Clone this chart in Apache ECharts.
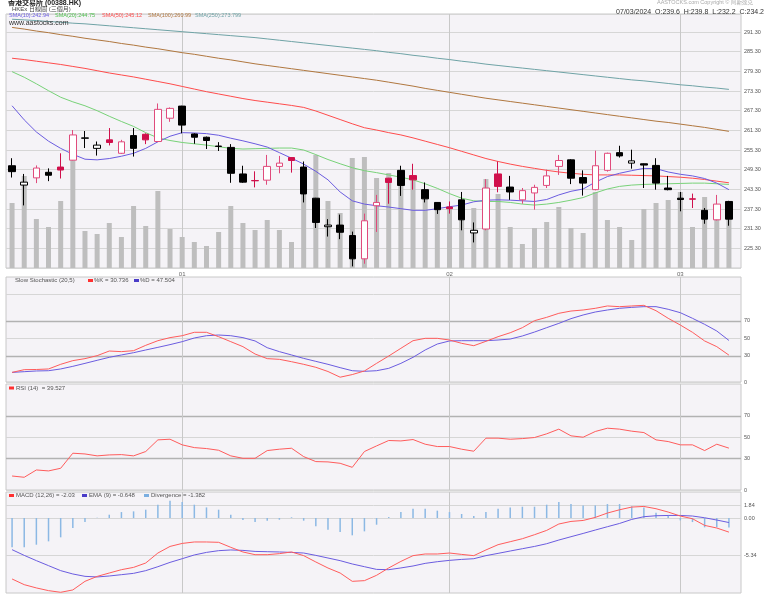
<!DOCTYPE html>
<html><head><meta charset="utf-8">
<script src="https://cdn.jsdelivr.net/npm/echarts@6/dist/echarts.min.js"></script>
<style>html,body{margin:0;padding:0;background:#fff}#c{width:768px;height:601px}</style>
</head><body><div id="c"></div>
<script>
// ---------------- data ----------------
const dates = ['2023-12-08','2023-12-11','2023-12-12','2023-12-13','2023-12-14','2023-12-15','2023-12-18','2023-12-19','2023-12-20','2023-12-21','2023-12-22','2023-12-27','2023-12-28','2023-12-29',
'2024-01-02','2024-01-03','2024-01-04','2024-01-05','2024-01-08','2024-01-09','2024-01-10','2024-01-11','2024-01-12','2024-01-15','2024-01-16','2024-01-17','2024-01-18','2024-01-19','2024-01-22','2024-01-23','2024-01-24','2024-01-25','2024-01-26','2024-01-29','2024-01-30','2024-01-31',
'2024-02-01','2024-02-02','2024-02-05','2024-02-06','2024-02-07','2024-02-08','2024-02-09','2024-02-14','2024-02-15','2024-02-16','2024-02-19','2024-02-20','2024-02-21','2024-02-22','2024-02-23','2024-02-26','2024-02-27','2024-02-28','2024-02-29',
'2024-03-01','2024-03-04','2024-03-05','2024-03-06','2024-03-07'];
const opens = [250.5,244.6,246.8,248.5,250.1,252.2,259.0,255.8,258.4,254.3,259.7,260.1,257.9,265.0,268.7,260.2,259.2,256.5,256.1,248.0,246.0,246.1,250.3,253.0,250.1,240.6,231.9,232.4,229.2,222.1,238.3,246.7,249.1,247.5,243.2,239.3,237.9,240.1,230.0,231.2,248.0,244.0,240.1,242.2,244.5,250.3,252.3,246.9,243.2,249.1,254.5,251.3,251.1,250.6,243.7,240.6,240.4,236.9,234.0,239.6];
const closes = [248.7,245.5,249.8,247.6,249.2,259.9,258.9,256.8,257.6,257.8,255.8,258.4,267.7,268.0,262.9,259.2,258.2,256.4,248.2,245.5,245.9,250.3,251.3,252.1,241.9,233.2,232.4,230.2,222.1,233.7,239.3,245.4,244.5,246.2,240.4,237.1,237.4,234.0,230.8,243.7,244.2,242.5,242.9,243.9,247.4,252.1,246.7,245.2,250.5,254.3,253.5,252.0,250.7,245.2,243.2,240.2,240.3,234.2,238.8,234.2];
const highs = [252.8,248.0,250.6,249.7,254.3,261.4,261.1,257.9,262.0,258.4,262.0,260.4,269.5,268.3,268.8,260.4,259.4,257.7,257.1,250.5,248.8,253.8,253.5,253.1,251.8,240.7,234.2,235.6,230.4,235.9,241.6,246.8,250.5,251.1,245.4,239.4,239.6,242.5,233.2,246.4,251.8,247.4,243.7,244.7,249.3,253.8,252.5,249.1,255.1,254.5,256.6,255.4,251.2,252.8,247.4,242.5,242.0,237.6,241.6,239.8];
const lows = [246.9,238.4,245.2,245.8,246.6,252.1,255.9,253.6,256.7,254.1,253.3,257.1,257.7,263.9,260.4,257.2,255.6,255.0,245.3,245.3,243.9,244.7,248.2,248.4,239.3,231.5,228.9,228.1,219.8,220.6,230.3,238.9,241.3,243.2,239.3,235.8,235.9,230.8,227.1,230.8,242.4,240.1,238.9,237.1,243.7,247.7,244.9,241.4,243.0,248.7,253.0,249.6,243.7,243.2,243.0,236.6,237.6,232.8,233.8,232.2];
const volumes = [6.5,9.2,4.9,4.1,6.7,12.1,3.7,3.4,4.5,3.1,6.2,4.2,7.7,3.9,3.1,2.6,2.2,3.6,6.2,4.5,3.8,4.8,3.8,2.6,10.0,11.3,6.7,5.5,11.0,11.1,9.0,9.5,9.5,8.8,7.5,6.6,6.2,6.6,6.0,8.9,7.4,4.1,2.4,4.0,4.6,6.1,4.0,3.5,7.6,4.8,4.1,2.8,5.9,6.5,6.8,7.6,4.1,7.1,6.2,5.0];
const sma10 = [268.8,264.5,260.8,258.0,255.8,254.0,252.5,252.3,252.7,253.4,254.3,255.8,257.8,259.5,260.6,260.5,260.3,259.8,258.9,258.1,257.2,256.2,254.5,252.8,251.0,248.8,246.2,242.5,239.8,238.8,238.3,237.9,237.4,236.9,236.9,237.4,238.0,238.5,239.5,240.0,240.1,240.0,239.8,239.6,240.2,241.6,242.7,243.4,245.5,247.2,248.2,249.0,249.7,249.6,248.6,247.9,247.4,246.6,245.2,243.2];
const sma20 = [279.2,277.5,275.5,273.4,271.4,270.0,268.8,267.3,265.6,264.0,262.5,260.6,259.0,258.2,257.6,257.2,256.8,256.3,255.8,255.6,255.7,255.8,255.9,255.9,255.3,253.9,252.4,251.1,249.9,249.0,248.4,247.7,247.0,246.2,245.0,243.6,242.0,240.6,239.8,239.6,239.6,239.3,238.8,238.5,238.8,239.3,240.0,240.8,242.2,243.4,244.2,244.6,244.8,244.9,245.0,245.1,245.2,245.2,245.0,244.8];
const sma50 = [283.3,282.9,282.4,281.9,281.4,280.8,280.2,279.5,278.8,278.2,277.6,276.9,276.2,275.5,274.7,273.9,273.1,272.4,271.7,271.0,270.4,269.9,269.4,268.9,268.3,267.2,265.9,264.6,263.3,262.1,261.4,260.6,259.9,259.0,258.0,257.0,256.0,254.9,253.8,252.7,251.8,251.0,250.3,249.7,249.1,248.6,248.2,247.9,247.7,247.7,247.7,247.6,247.5,247.4,247.2,247.0,246.7,246.3,245.8,245.3];
const sma100 = [292.7,292.2,291.6,291.1,290.5,290.0,289.4,288.9,288.4,287.8,287.3,286.7,286.2,285.6,285.0,284.5,283.9,283.3,282.8,282.2,281.6,281.1,280.6,280.1,279.6,279.1,278.6,278.1,277.6,277.1,276.6,276.0,275.4,274.8,274.1,273.5,272.9,272.3,271.7,271.1,270.6,270.1,269.6,269.1,268.6,268.1,267.6,267.1,266.6,266.1,265.6,265.1,264.6,264.1,263.7,263.2,262.7,262.2,261.6,261.0];
const sma250 = [295.2,295.0,294.8,294.5,294.3,294.0,293.8,293.5,293.2,292.9,292.6,292.3,292.0,291.7,291.4,291.1,290.8,290.5,290.2,289.9,289.6,289.2,288.8,288.4,288.0,287.6,287.2,286.8,286.4,286.0,285.6,285.1,284.7,284.2,283.8,283.3,282.9,282.4,282.0,281.5,281.1,280.7,280.3,279.9,279.5,279.1,278.7,278.3,277.9,277.5,277.1,276.7,276.4,276.0,275.6,275.2,274.9,274.5,274.2,273.8];
const stochK = [11.0,14.1,14.3,14.9,20.2,24.4,26.7,30.1,35.4,34.7,35.8,41.9,47.2,50.7,52.9,56.8,56.8,51.8,46.1,40.4,32.0,26.7,25.9,23.2,20.2,16.8,12.0,5.5,8.5,12.6,21.3,29.7,38.5,47.2,49.9,49.9,48.0,44.2,41.5,46.5,51.8,56.3,62.1,70.1,73.9,78.5,81.1,82.3,84.2,86.9,86.1,86.9,87.6,81.5,72.8,65.1,56.8,46.9,40.4,30.7];
const stochD = [11.0,11.8,12.6,12.9,14.9,17.9,21.3,24.8,28.2,30.9,33.5,36.6,39.6,42.7,46.1,50.3,52.9,53.7,52.9,50.7,46.9,39.2,34.7,30.9,27.0,23.6,20.2,16.4,12.9,12.2,12.9,15.6,21.3,28.2,36.6,43.4,46.9,47.2,47.2,47.2,48.0,49.1,52.6,57.1,62.1,67.0,72.4,76.6,80.0,82.3,84.2,85.3,86.1,86.1,83.1,79.2,72.8,65.9,58.3,47.5];
const rsi14 = [13.2,12.0,18.9,18.0,20.5,34.7,34.0,32.2,33.1,33.4,32.2,36.3,47.3,47.9,42.6,40.0,39.1,37.5,32.2,29.9,29.9,37.2,38.5,39.4,31.5,26.8,26.5,25.2,21.4,36.3,41.6,46.7,46.3,47.6,43.2,41.0,41.0,38.5,36.6,48.9,48.9,47.9,48.5,49.5,53.0,57.4,51.1,49.8,55.2,58.3,57.4,55.5,54.2,47.3,45.7,42.6,42.6,37.2,43.2,39.5];
const macdLine = [-8.78,-9.60,-10.07,-10.46,-10.70,-10.36,-9.12,-8.41,-7.92,-7.44,-7.11,-6.48,-5.04,-4.09,-3.66,-3.45,-3.45,-3.50,-4.22,-4.89,-5.28,-5.28,-5.13,-4.89,-5.42,-6.33,-7.20,-7.92,-9.12,-9.02,-8.25,-7.19,-6.25,-5.42,-5.18,-5.18,-5.04,-5.24,-5.42,-4.60,-3.84,-3.41,-2.98,-2.40,-1.78,-0.86,-0.49,-0.35,0.09,0.72,1.19,1.58,1.67,1.34,0.86,0.29,-0.10,-1.06,-1.44,-2.03];
const macdEma = [-4.56,-5.38,-6.14,-6.86,-7.58,-8.06,-8.40,-8.49,-8.35,-8.16,-7.97,-7.58,-7.01,-6.39,-5.86,-5.32,-4.95,-4.70,-4.60,-4.66,-4.81,-4.85,-4.89,-4.95,-5.04,-5.38,-5.76,-6.14,-6.62,-7.01,-7.40,-7.44,-7.19,-6.91,-6.53,-6.29,-6.10,-5.96,-5.86,-5.42,-5.09,-4.75,-4.42,-4.09,-3.70,-3.17,-2.69,-2.22,-1.73,-1.25,-0.78,-0.20,0.19,0.33,0.37,0.37,0.29,0.04,-0.29,-0.65];
const macdDiv = [-4.22,-4.22,-3.84,-3.36,-2.78,-1.44,-0.58,0.05,0.48,0.86,0.96,1.20,1.92,2.49,2.30,1.92,1.53,1.20,0.48,-0.29,-0.58,-0.38,-0.24,0.10,-0.38,-1.20,-1.68,-2.01,-2.49,-1.92,-0.96,0.14,0.86,1.34,1.34,1.06,0.86,0.58,0.29,0.86,1.34,1.53,1.63,1.63,1.92,2.30,2.01,1.82,1.82,2.01,2.01,1.68,1.53,0.77,0.38,-0.34,-0.58,-1.34,-1.34,-1.38];

// legend texts (values as printed on the chart)
const smaLegend = ['SMA(10):242.94', 'SMA(20):244.75', 'SMA(50):245.12', 'SMA(100):260.99', 'SMA(250):273.799'];
const lastBar = '07/03/2024  O:239.6  H:239.8  L:232.2  C:234.2';

// axis ranges and reference levels
const priceMin = 219.3, priceMax = 296.8, priceStep = 6;
const volMax = 25.4;
const stochRange = [0, 120], stochLevels = [100, 70, 50, 30, 0], stochLabels = ['', '70', '50', '30', '0'], stochStrong = [70, 30];
const rsiRange = [0, 100], rsiLevels = [70, 50, 30, 0], rsiLabels = ['70', '50', '30', '0'], rsiStrong = [70, 30];
const macdRange = [-10.8, 3.75], macdLevels = [1.84, 0, -5.34], macdLabels = ['1.84', '0.00', '-5.34'];

// ---------------- chart ----------------
const FONT = "'Liberation Sans','Noto Sans CJK TC',sans-serif";
const RED = '#d0104c', RED_HOLLOW = '#e04b7c', BLACK = '#000000';
const C10 = '#6b5ce0', C20 = '#78d278', C50 = '#ff4c4c', C100 = '#b0773f', C250 = '#6fa3a6';
const BG = '#f5f3f7';

const monthStarts = dates.map((d, i) => (i > 0 && d.slice(5, 7) !== dates[i - 1].slice(5, 7)) ? i : -1).filter(i => i >= 0);

const candleData = dates.map((d, i) => {
  const o = opens[i], c = closes[i];
  const red = i > 0 && c >= closes[i - 1];
  const hollow = c > o;
  const edge = red ? (hollow ? RED_HOLLOW : RED) : BLACK;
  const fill = hollow ? '#ffffff' : (red ? RED : BLACK);
  return { value: [o, c, lows[i], highs[i]], itemStyle: { color: fill, color0: fill, borderColor: edge, borderColor0: edge, borderWidth: 1 } };
});

const L = 6, DATA_W = 729, FRAME_W = 735;
const panels = [{ top: 14, h: 254 }, { top: 277, h: 105 }, { top: 384, h: 106 }, { top: 492, h: 101 }];

const grid = [], xAxis = [];
panels.forEach((p, k) => {
  grid.push({ left: L, top: p.top, width: FRAME_W, height: p.h, show: true, backgroundColor: BG, borderColor: '#c8c8c8', borderWidth: 1 });
  grid.push({ left: L, top: p.top, width: DATA_W, height: p.h });
  xAxis.push({ type: 'value', gridIndex: 2 * k, min: 0, max: 1, show: false });
  xAxis.push({
    type: 'category', gridIndex: 2 * k + 1, data: dates, boundaryGap: true,
    axisLine: { show: false }, axisTick: { show: false }, splitLine: { show: false },
    axisLabel: k === 0 ? {
      show: true, interval: (idx) => monthStarts.includes(idx), formatter: v => v.slice(5, 7),
      fontSize: 6, color: '#666', margin: 3, fontFamily: FONT
    } : { show: false }
  });
});

const yAxis = [
  { type: 'value', gridIndex: 0, position: 'right', min: priceMin, max: priceMax, interval: priceStep,
    axisLine: { show: false }, axisTick: { show: false },
    axisLabel: { fontSize: 5.5, color: '#555', margin: 3, fontFamily: FONT, formatter: v => v.toFixed(2), showMinLabel: false, showMaxLabel: false },
    splitLine: { lineStyle: { color: '#d6d6d6', width: 1 } } },
  { type: 'value', gridIndex: 1, min: priceMin, max: priceMax, show: false },
  { type: 'value', gridIndex: 1, min: 0, max: volMax, show: false },
  { type: 'value', gridIndex: 2, min: stochRange[0], max: stochRange[1], show: false },
  { type: 'value', gridIndex: 3, min: stochRange[0], max: stochRange[1], show: false },
  { type: 'value', gridIndex: 4, min: rsiRange[0], max: rsiRange[1], show: false },
  { type: 'value', gridIndex: 5, min: rsiRange[0], max: rsiRange[1], show: false },
  { type: 'value', gridIndex: 6, min: macdRange[0], max: macdRange[1], show: false },
  { type: 'value', gridIndex: 7, min: macdRange[0], max: macdRange[1], show: false }
];

function levelLines(levels, labels, strong) {
  return {
    silent: true, symbol: 'none', z: 1, animation: false,
    data: levels.map((v, i) => ({
      yAxis: v,
      lineStyle: strong.includes(v) ? { color: '#b2b2b2', width: 1.3, type: 'solid' } : { color: '#d6d6d6', width: 1, type: 'solid' },
      label: { show: labels[i] !== '', position: 'end', formatter: labels[i], distance: 3, color: '#555', fontSize: 5.5, fontFamily: FONT }
    }))
  };
}
function monthLines() {
  return {
    silent: true, symbol: 'none', z: 1, animation: false, label: { show: false },
    lineStyle: { color: '#c8c8c8', width: 1, type: 'solid' },
    data: monthStarts.map(i => ({ xAxis: dates[i] }))
  };
}
function line(name, data, xi, yi, color, z) {
  return { name, type: 'line', data, xAxisIndex: xi, yAxisIndex: yi, symbol: 'none', showSymbol: false, silent: true,
    lineStyle: { color, width: 1 }, z: z || 3, animation: false };
}

const series = [
  // main panel
  { type: 'bar', data: volumes, xAxisIndex: 1, yAxisIndex: 2, barWidth: 5, itemStyle: { color: '#bebebe' }, z: 1, silent: true, animation: false, markLine: monthLines() },
  line('SMA250', sma250, 1, 1, C250),
  line('SMA100', sma100, 1, 1, C100),
  line('SMA50', sma50, 1, 1, C50),
  line('SMA20', sma20, 1, 1, C20),
  line('SMA10', sma10, 1, 1, C10),
  { type: 'candlestick', data: candleData, xAxisIndex: 1, yAxisIndex: 1, barWidth: 7, z: 4, silent: true, animation: false },
  // stochastic
  { type: 'line', data: [], xAxisIndex: 2, yAxisIndex: 3, markLine: levelLines(stochLevels, stochLabels, stochStrong) },
  line('%D', stochD, 3, 4, '#6b5ce0'),
  { ...line('%K', stochK, 3, 4, '#ff5c5c'), markLine: monthLines() },
  // RSI
  { type: 'line', data: [], xAxisIndex: 4, yAxisIndex: 5, markLine: levelLines(rsiLevels, rsiLabels, rsiStrong) },
  { ...line('RSI', rsi14, 5, 6, '#ff5c5c'), markLine: monthLines() },
  // MACD
  { type: 'line', data: [], xAxisIndex: 6, yAxisIndex: 7, markLine: levelLines(macdLevels, macdLabels, []) },
  { type: 'bar', data: macdDiv, xAxisIndex: 7, yAxisIndex: 8, barWidth: 1.5, itemStyle: { color: '#8bb8e4' }, z: 2, silent: true, animation: false, markLine: monthLines() },
  line('EMA', macdEma, 7, 8, '#6b5ce0'),
  line('MACD', macdLine, 7, 8, '#ff5c5c')
];

function txt(x, y, text, size, fill, opts) {
  return Object.assign({ type: 'text', x, y, z: 100, silent: true,
    style: Object.assign({ text, fill, font: size + 'px ' + FONT, textVerticalAlign: 'middle', textAlign: 'left' }, (opts || {})) });
}
function sw(x, y, color) {
  return { type: 'rect', z: 100, silent: true, shape: { x, y: y - 1.5, width: 5, height: 3 }, style: { fill: color } };
}

const graphic = [
  txt(8, 3.5, '香港交易所 (00388.HK)', 7, '#222', { font: 'bold 7px ' + FONT }),
  txt(12, 9.5, 'HKEx 日線圖 (三個月)', 6, '#444'),
  txt(9, 15.8, smaLegend[0], 5.5, C10),
  txt(55, 15.8, smaLegend[1], 5.5, '#4fc04f'),
  txt(102, 15.8, smaLegend[2], 5.5, C50),
  txt(148, 15.8, smaLegend[3], 5.5, C100),
  txt(195, 15.8, smaLegend[4], 5.5, C250),
  txt(9, 23.5, 'www.aastocks.com', 7, '#333'),
  txt(657, 2.5, 'AASTOCKS.com Copyright © 阿斯達克', 5.5, '#aaa'),
  txt(764, 12.3, lastBar, 7, '#333', { textAlign: 'right' }),
  txt(15, 280.5, 'Slow Stochastic (20,5)', 6, '#555'),
  sw(88, 280.5, '#ff3030'), txt(94, 280.5, '%K = 30.736', 6, '#555'),
  sw(134, 280.5, '#4a3cc8'), txt(140, 280.5, '%D = 47.504', 6, '#555'),
  sw(9, 388, '#ff3030'), txt(16, 388, 'RSI (14)  = 39.527', 6, '#555'),
  sw(9, 495.5, '#ff3030'), txt(16, 495.5, 'MACD (12,26) = -2.03', 6, '#555'),
  sw(82, 495.5, '#4a3cc8'), txt(89, 495.5, 'EMA (9) = -0.648', 6, '#555'),
  sw(144, 495.5, '#7aaee0'), txt(151, 495.5, 'Divergence = -1.382', 6, '#555')
];

const chart = echarts.init(document.getElementById('c'), null, { renderer: 'canvas' });
chart.setOption({ animation: false, backgroundColor: '#ffffff', grid, xAxis, yAxis, series, graphic });
</script></body></html>
